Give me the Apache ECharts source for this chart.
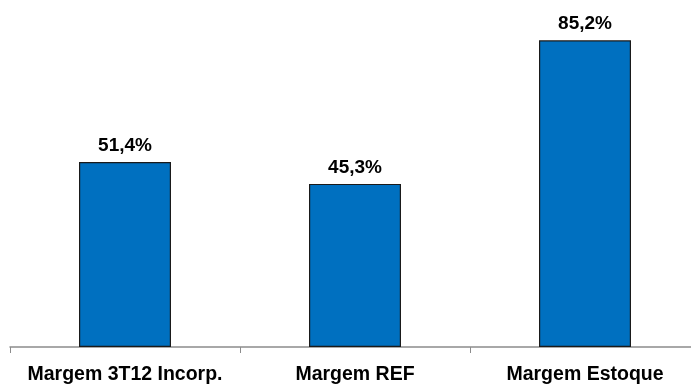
<!DOCTYPE html>
<html>
<head>
<meta charset="utf-8">
<script src="https://cdn.jsdelivr.net/npm/echarts@6/dist/echarts.min.js"></script>
<style>
  html, body { margin: 0; padding: 0; background: #fff; }
  #chart { width: 691px; height: 385px; }
</style>
</head>
<body>
<div id="chart"></div>
<script>
// 类目和数值
let categories = ['Margem 3T12 Incorp.', 'Margem REF', 'Margem Estoque'];
let margins = [51.4, 45.3, 85.2];

let myChart = echarts.init(document.getElementById('chart'));
let option = {
  animation: false,
  grid: {
    left: 10,
    width: 690,
    top: -13,
    bottom: 38,
    outerBoundsMode: 'none'
  },
  xAxis: {
    type: 'category',
    data: categories,
    axisLine: { lineStyle: { color: '#8c8c8c', width: 1.5 } },
    axisTick: { show: true, interval: 0, length: 6, lineStyle: { color: '#8c8c8c' } },
    axisLabel: {
      interval: 0,
      hideOverlap: false,
      color: '#000',
      fontFamily: 'Liberation Sans, Arial, sans-serif',
      fontWeight: 'bold',
      fontSize: 19.5,
      margin: 18
    }
  },
  yAxis: {
    type: 'value',
    min: 0,
    max: 100,
    show: false,
    splitLine: { show: false }
  },
  series: [
    {
      type: 'bar',
      data: margins,
      barWidth: '40%',
      itemStyle: {
        color: '#0070c0',
        borderColor: '#1a1a1a',
        borderWidth: 1.2
      },
      label: {
        show: true,
        position: 'top',
        distance: 7,
        color: '#000',
        fontFamily: 'Liberation Sans, Arial, sans-serif',
        fontWeight: 'bold',
        fontSize: 19,
        formatter: p => p.value.toFixed(1).replace('.', ',') + '%'
      }
    }
  ]
};
myChart.setOption(option);
</script>
</body>
</html>
